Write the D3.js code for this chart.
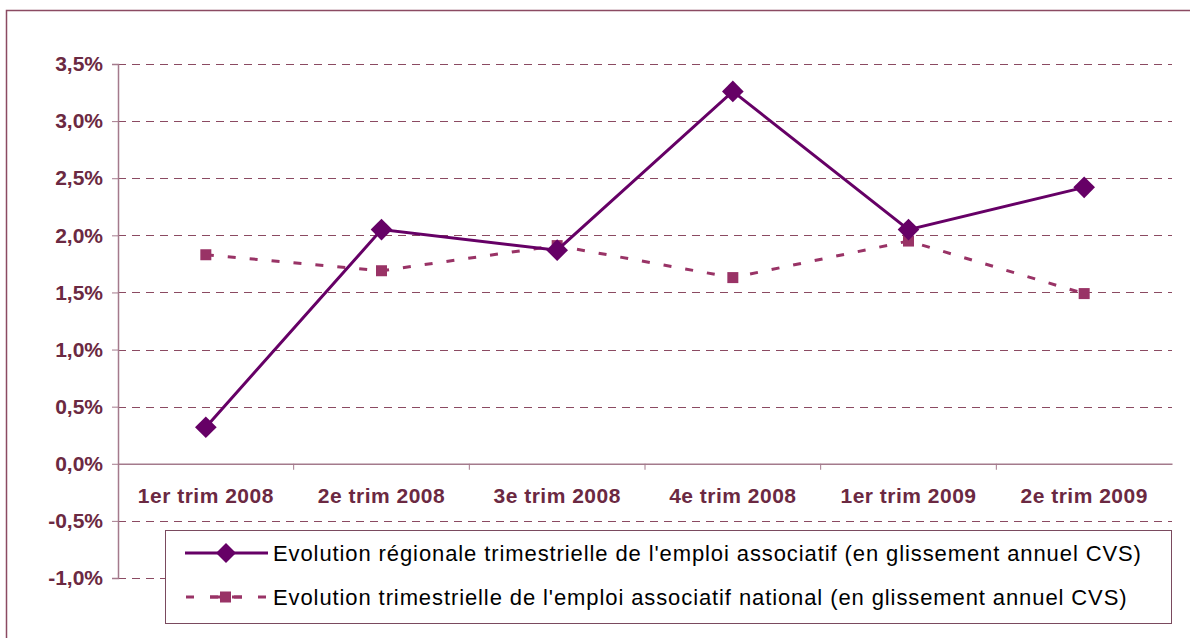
<!DOCTYPE html>
<html>
<head>
<meta charset="utf-8">
<script src="https://cdn.jsdelivr.net/npm/d3@7"></script>
<style>
  body { margin: 0; background: #fff; }
  text { font-family: Arial, "Liberation Sans", sans-serif; }
</style>
</head>
<body>
<div id="chart"></div>
<script>
// data
var categories = ["1er trim 2008", "2e trim 2008", "3e trim 2008", "4e trim 2008", "1er trim 2009", "2e trim 2009"];
var regional = [0.32, 2.05, 1.87, 3.26, 2.05, 2.42];
var national = [1.83, 1.69, 1.91, 1.63, 1.95, 1.49];
var yTicks = [-1.0, -0.5, 0, 0.5, 1.0, 1.5, 2.0, 2.5, 3.0, 3.5];
var legendLabels = [
  "Evolution régionale trimestrielle de l'emploi associatif (en glissement annuel CVS)",
  "Evolution trimestrielle de l'emploi associatif national (en glissement annuel CVS)"
];

var W = 1190, H = 638;
var margin = {top: 64, right: 18, bottom: 60, left: 118};
var width = 1172 - margin.left,
    height = 578 - margin.top;

var textCol = "#6b2942", gridCol = "#8b4a62", axisCol = "#a47a8c";
var colReg = "#660066", colNat = "#993366";

var svg = d3.select("#chart").append("svg")
    .attr("width", W)
    .attr("height", H);

// outer chart border
svg.append("rect")
    .attr("x", 6.5).attr("y", 10.5)
    .attr("width", W + 10).attr("height", H + 10)
    .attr("fill", "none")
    .attr("stroke", "#8b4a62")
    .attr("stroke-width", 1.5);

var g = svg.append("g")
    .attr("transform", "translate(" + margin.left + "," + margin.top + ")");

var x = d3.scaleBand()
    .domain(categories)
    .range([0, width]);

var y = d3.scaleLinear()
    .domain([-1.0, 3.5])
    .range([height, 0]);

var fmt = function(d) { return d3.format(".1f")(d).replace(".", ",").replace("−", "-") + "%"; };

// dashed gridlines
g.selectAll("line.grid")
  .data(yTicks.filter(function(d) { return d !== 0; }))
  .enter().append("line")
    .attr("class", "grid")
    .attr("x1", 0).attr("x2", width)
    .attr("y1", function(d) { return Math.round(y(d)) + 0.5; })
    .attr("y2", function(d) { return Math.round(y(d)) + 0.5; })
    .attr("stroke", gridCol)
    .attr("stroke-width", 1)
    .attr("stroke-dasharray", "8,6");

// y axis
var yAxis = g.append("g")
    .call(d3.axisLeft(y).tickValues(yTicks).tickFormat(fmt).tickSize(6).tickPadding(9));
yAxis.select(".domain").attr("stroke", axisCol).attr("stroke-width", 1.5);
yAxis.selectAll(".tick line").attr("stroke", axisCol);
yAxis.selectAll(".tick text")
    .attr("fill", textCol)
    .style("font-size", "21px")
    .style("font-weight", "bold");

// zero line with category ticks
var xAxis = g.append("g")
    .attr("transform", "translate(0," + y(0) + ")")
    .call(d3.axisBottom(x).tickSize(0).tickPadding(24));
xAxis.select(".domain").attr("stroke", axisCol).attr("stroke-width", 1.5);
xAxis.selectAll(".tick text")
    .attr("fill", textCol)
    .style("font-size", "21px")
    .style("font-weight", "bold")
    .style("letter-spacing", "0.5px");
xAxis.selectAll("line.sep")
  .data(categories.slice(1))
  .enter().append("line")
    .attr("class", "sep")
    .attr("x1", function(d) { return x(d); })
    .attr("x2", function(d) { return x(d); })
    .attr("y1", 0).attr("y2", 6)
    .attr("stroke", axisCol);

var cx = function(d, i) { return x(categories[i]) + x.bandwidth() / 2; };

// national series (dashed, squares)
g.append("path")
    .datum(national)
    .attr("fill", "none")
    .attr("stroke", colNat)
    .attr("stroke-width", 3)
    .attr("stroke-dasharray", "8,14")
    .attr("d", d3.line().x(cx).y(function(d) { return y(d); }));

g.selectAll("rect.nat")
  .data(national)
  .enter().append("rect")
    .attr("class", "nat")
    .attr("x", function(d, i) { return cx(d, i) - 5.5; })
    .attr("y", function(d) { return y(d) - 5.5; })
    .attr("width", 11).attr("height", 11)
    .attr("fill", colNat);

// regional series (solid, diamonds)
g.append("path")
    .datum(regional)
    .attr("fill", "none")
    .attr("stroke", colReg)
    .attr("stroke-width", 3)
    .attr("d", d3.line().x(cx).y(function(d) { return y(d); }));

g.selectAll("path.reg")
  .data(regional)
  .enter().append("path")
    .attr("class", "reg")
    .attr("transform", function(d, i) { return "translate(" + cx(d, i) + "," + y(d) + ") rotate(45)"; })
    .attr("d", d3.symbol().type(d3.symbolSquare).size(235))
    .attr("fill", colReg);

// legend
var leg = svg.append("g");
leg.append("rect")
    .attr("x", 165.5).attr("y", 530.5)
    .attr("width", 1006).attr("height", 93)
    .attr("fill", "#fff")
    .attr("stroke", "#7a4a5e")
    .attr("stroke-width", 1);

var l1 = 553, l2 = 597;
leg.append("line")
    .attr("x1", 185).attr("x2", 268).attr("y1", l1).attr("y2", l1)
    .attr("stroke", colReg).attr("stroke-width", 3);
leg.append("path")
    .attr("transform", "translate(226," + l1 + ") rotate(45)")
    .attr("d", d3.symbol().type(d3.symbolSquare).size(200))
    .attr("fill", colReg);
leg.append("line")
    .attr("x1", 186).attr("x2", 268).attr("y1", l2).attr("y2", l2)
    .attr("stroke", colNat).attr("stroke-width", 3)
    .attr("stroke-dasharray", "8,16");
leg.append("rect")
    .attr("x", 220).attr("y", l2 - 5.5).attr("width", 11).attr("height", 11)
    .attr("fill", colNat);
leg.append("line")
    .attr("x1", 210).attr("x2", 242).attr("y1", l2).attr("y2", l2)
    .attr("stroke", colNat).attr("stroke-width", 3)
    .attr("stroke-dasharray", "10,12");

leg.selectAll("text")
  .data(legendLabels)
  .enter().append("text")
    .attr("x", 273)
    .attr("y", function(d, i) { return i === 0 ? l1 : l2; })
    .attr("dy", "0.35em")
    .style("font-size", "22px")
    .style("letter-spacing", "0.9px")
    .attr("fill", "#000")
    .text(function(d) { return d; });
</script>
</body>
</html>
